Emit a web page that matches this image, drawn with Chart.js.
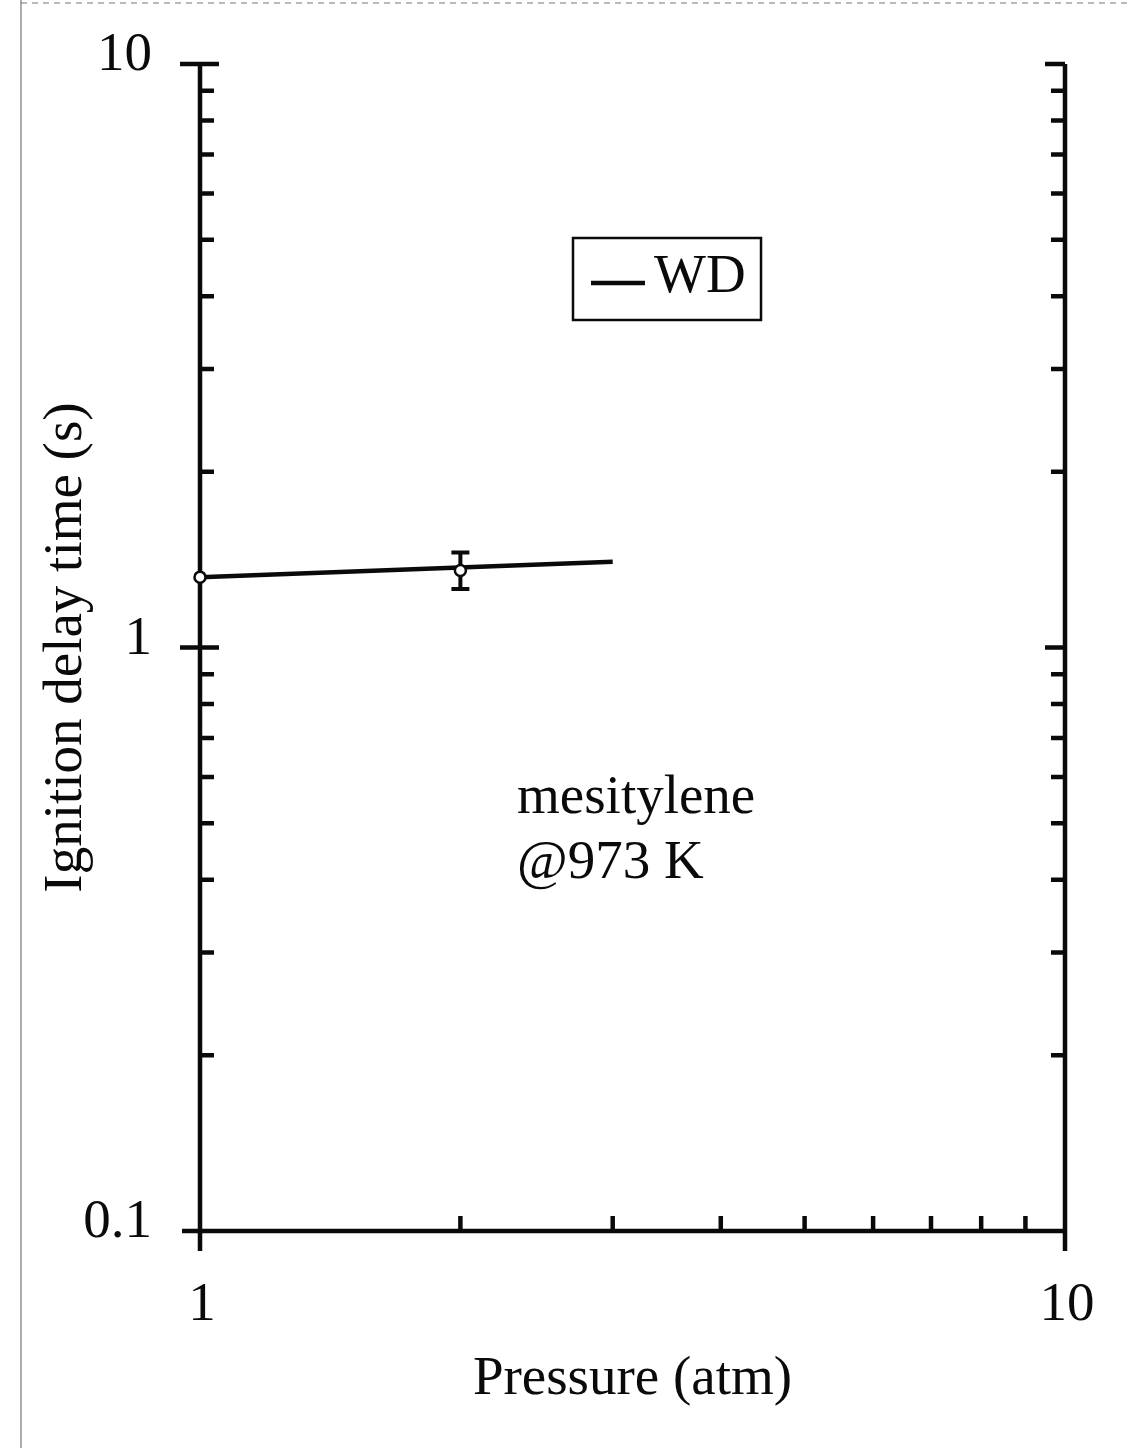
<!DOCTYPE html>
<html>
<head>
<meta charset="utf-8">
<script src="https://cdn.jsdelivr.net/npm/chart.js@4.4.1/dist/chart.umd.min.js"></script>
<style>
  html, body { margin: 0; padding: 0; background: #fff; }
  #wrap { width: 1136px; height: 1448px; }
</style>
</head>
<body>
<div id="wrap"><canvas id="delayChart" width="1136" height="1448"></canvas></div>
<script>
// measured points (pressure in atm, ignition delay in s)
const pressure = [1, 2];
const delay = [1.32, 1.355];
const delayLow = [null, 1.26];
const delayHigh = [null, 1.455];

// WD fit line
const fitPressure = [1, 3];
const fitDelay = [1.32, 1.403];

const xTickLabels = ['1', '10'];
const yTickLabels = ['0.1', '1', '10'];

const serif = '"Liberation Serif", "Times New Roman", serif';
const ink = '#0a0a0a';

const isDecade = v => Math.abs(Math.log10(v) - Math.round(Math.log10(v))) < 1e-6;
// only 2..9 per decade, like the original paper plot
const isWholeMinor = v => {
    const m = v / Math.pow(10, Math.floor(Math.log10(v) + 1e-9));
    return Math.abs(m - Math.round(m)) < 1e-6;
};

// error bars, drawn under the open circles
const errorBars = {
    id: 'errorBars',
    beforeDatasetsDraw(chart) {
        const { ctx, scales: { x, y } } = chart;
        ctx.save();
        ctx.strokeStyle = ink;
        ctx.lineWidth = 4;
        pressure.forEach((p, i) => {
            if (delayLow[i] == null) return;
            const px = x.getPixelForValue(p);
            const lo = y.getPixelForValue(delayLow[i]);
            const hi = y.getPixelForValue(delayHigh[i]);
            ctx.beginPath();
            ctx.moveTo(px, lo); ctx.lineTo(px, hi);
            ctx.moveTo(px - 9, lo); ctx.lineTo(px + 9, lo);
            ctx.moveTo(px - 9, hi); ctx.lineTo(px + 9, hi);
            ctx.stroke();
        });
        ctx.restore();
    }
};

// axis frame with log ticks (left/bottom/right, no top)
const frame = {
    id: 'frame',
    beforeDatasetsDraw(chart) {
        const { ctx, chartArea: a, scales: { x, y } } = chart;
        ctx.save();
        ctx.strokeStyle = ink;
        ctx.lineWidth = 4.5;
        ctx.lineCap = 'butt';
        ctx.beginPath();
        // left and right axes run a bit below the bottom (major x ticks)
        ctx.moveTo(a.left, a.top); ctx.lineTo(a.left, a.bottom + 20);
        ctx.moveTo(a.right, a.top); ctx.lineTo(a.right, a.bottom + 20);
        ctx.moveTo(a.left - 18, a.bottom); ctx.lineTo(a.right, a.bottom);
        y.ticks.forEach(t => {
            if (!isWholeMinor(t.value)) return;
            const py = y.getPixelForValue(t.value);
            if (isDecade(t.value)) {
                if (py > a.bottom - 1) return;
                ctx.moveTo(a.left - 20, py); ctx.lineTo(a.left + 19, py);
                ctx.moveTo(a.right - 20, py); ctx.lineTo(a.right, py);
            } else {
                ctx.moveTo(a.left, py); ctx.lineTo(a.left + 14, py);
                ctx.moveTo(a.right - 14, py); ctx.lineTo(a.right, py);
            }
        });
        x.ticks.forEach(t => {
            if (isDecade(t.value) || !isWholeMinor(t.value)) return;
            const px = x.getPixelForValue(t.value);
            ctx.moveTo(px, a.bottom); ctx.lineTo(px, a.bottom - 15);
        });
        ctx.stroke();
        ctx.restore();
    }
};

// legend box and sample note
const notes = {
    id: 'notes',
    afterDraw(chart) {
        const { ctx, width, height } = chart;
        ctx.save();
        // page edge from the scan
        ctx.strokeStyle = '#777';
        ctx.lineWidth = 1.2;
        ctx.beginPath();
        ctx.moveTo(21, 0); ctx.lineTo(21, height);
        ctx.stroke();
        ctx.setLineDash([6, 5]);
        ctx.beginPath();
        ctx.moveTo(21, 3); ctx.lineTo(width - 4, 3);
        ctx.stroke();
        ctx.setLineDash([]);

        ctx.strokeStyle = ink;
        ctx.lineWidth = 2.5;
        ctx.strokeRect(573, 238, 188, 82);
        ctx.lineWidth = 4.5;
        ctx.beginPath();
        ctx.moveTo(591, 283); ctx.lineTo(645, 283);
        ctx.stroke();
        ctx.fillStyle = ink;
        ctx.font = '55px ' + serif;
        ctx.textBaseline = 'alphabetic';
        ctx.textAlign = 'left';
        ctx.fillText(chart.data.datasets[1].label, 654, 292);
        ctx.fillText('mesitylene', 517, 813);
        ctx.fillText('@973 K', 517, 878);
        ctx.restore();
    }
};

new Chart(document.getElementById('delayChart'), {
    type: 'scatter',
    data: {
        datasets: [
            {
                label: 'data',
                data: pressure.map((p, i) => ({ x: p, y: delay[i] })),
                showLine: false,
                pointRadius: 5.5,
                pointBorderWidth: 2.5,
                pointBorderColor: ink,
                pointBackgroundColor: '#fff'
            },
            {
                label: 'WD',
                data: fitPressure.map((p, i) => ({ x: p, y: fitDelay[i] })),
                showLine: true,
                borderColor: ink,
                borderWidth: 4.5,
                pointRadius: 0
            }
        ]
    },
    plugins: [frame, errorBars, notes],
    options: {
        responsive: false,
        animation: false,
        clip: false,
        layout: { padding: { left: 0, top: 64, right: 71, bottom: 0 } },
        plugins: { legend: { display: false }, tooltip: { enabled: false } },
        scales: {
            x: {
                type: 'logarithmic',
                min: 1,
                max: 10,
                border: { display: false },
                grid: { display: false, drawTicks: false, tickLength: 0 },
                afterFit: s => { s.height = 217; s.paddingLeft = 0; s.paddingRight = 0; },
                ticks: {
                    autoSkip: false,
                    maxRotation: 0,
                    padding: 42,
                    labelOffset: 2,
                    color: ink,
                    font: { family: serif, size: 55 },
                    callback: v => (isDecade(v) ? xTickLabels[Math.round(Math.log10(v))] : '')
                },
                title: {
                    display: true,
                    text: 'Pressure (atm)',
                    color: ink,
                    font: { family: serif, size: 55 },
                    padding: { top: 0, bottom: 35 }
                }
            },
            y: {
                type: 'logarithmic',
                min: 0.1,
                max: 10,
                border: { display: false },
                grid: { display: false, drawTicks: false, tickLength: 0 },
                afterFit: s => { s.width = 200; s.paddingTop = 0; s.paddingBottom = 0; },
                ticks: {
                    autoSkip: false,
                    padding: 48,
                    labelOffset: -8,
                    color: ink,
                    font: { family: serif, size: 55 },
                    callback: v => (isDecade(v) ? yTickLabels[Math.round(Math.log10(v)) + 1] : '')
                },
                title: {
                    display: true,
                    text: 'Ignition delay time (s)',
                    color: ink,
                    font: { family: serif, size: 55 },
                    padding: { top: 34, bottom: 0 }
                }
            }
        }
    }
});
</script>
</body>
</html>
